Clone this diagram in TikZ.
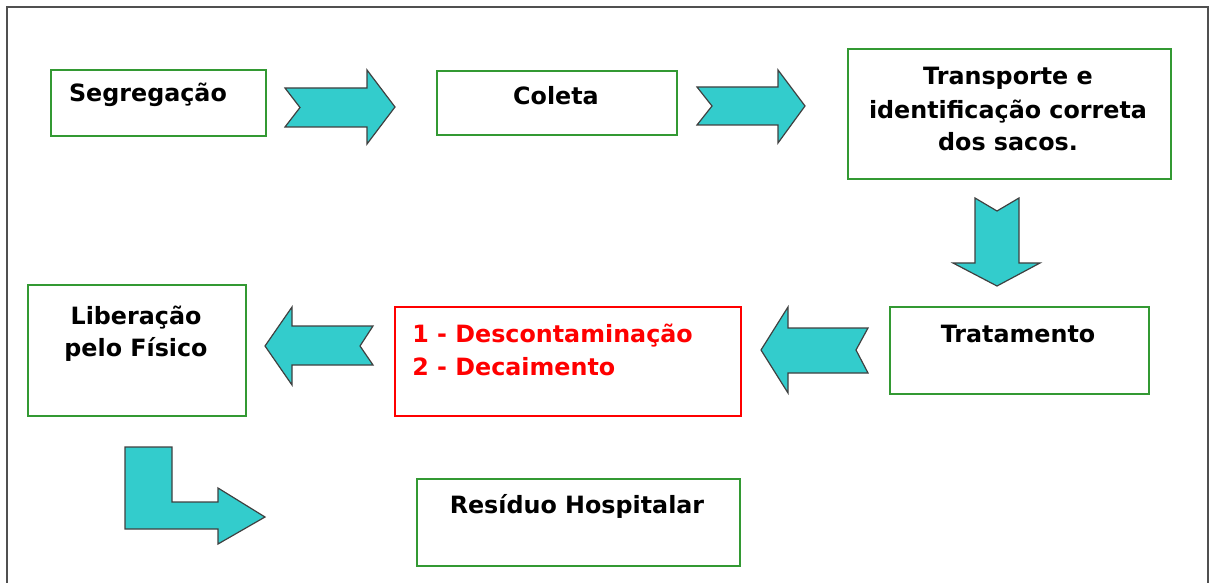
\documentclass[tikz,border=0pt]{standalone}
\usepackage{fontspec}
\setmainfont{DejaVu Sans}
\usepackage{tikz}
\usetikzlibrary{positioning,calc}
\definecolor{boxgreen}{RGB}{51,153,51}
\definecolor{arrowfill}{RGB}{51,204,204}
\definecolor{framegray}{RGB}{80,80,80}
\newcommand{\lbl}{\bfseries\fontsize{11.9}{16.5}\selectfont}
\begin{document}
\begin{tikzpicture}
[x=0.5pt,y=-0.5pt,
greenbox/.style={draw=boxgreen,line width=1pt,inner sep=0pt,anchor=north west},
redbox/.style={draw=red,line width=1pt,inner sep=0pt,anchor=north west},
txt/.style={font=\lbl,inner sep=0pt,align=center,anchor=base},
blockarrow/.style={fill=arrowfill,draw=black!75,line width=0.6pt,line join=miter}]
\useasboundingbox (0,0) rectangle (1212,583);
\draw[framegray,line width=1pt] (7,583) -- (7,7) -- (1208,7) -- (1208,583);

\node (seg) at (50,69) [greenbox,minimum width=107.5pt,minimum height=33pt] {};
\node (col) at (436,70) [greenbox,minimum width=120pt,minimum height=32pt] {};
\node (trans) at (847,48) [greenbox,minimum width=161.5pt,minimum height=65pt] {};
\node (trat) at (889,306) [greenbox,minimum width=129.5pt,minimum height=43.5pt] {};
\node (desc) at (394,306) [redbox,minimum width=173pt,minimum height=54.5pt] {};
\node (lib) at (27,284) [greenbox,minimum width=109pt,minimum height=65.5pt] {};
\node (res) at (416,478) [greenbox,minimum width=161.5pt,minimum height=43.5pt] {};

% multi-line labels sit on the baseline of their last line
\node (segt) at (148,102) [txt] {Segregação};
\node (colt) at (556,105) [txt] {Coleta};
\node (transt) at (1008,151) [txt] {Transporte e\\identificação correta\\dos sacos.};
\node (tratt) at (1018,343) [txt] {Tratamento};
\node (desct) at (412,375) [txt,red,align=left,anchor=base west] {1 - Descontaminação\\2 - Decaimento};
\node (libt) at (136,357) [txt] {Liberação\\pelo Físico};
\node (rest) at (577,513) [txt] {Resíduo Hospitalar};

\draw[blockarrow] (285,88) -- (367,88) -- (367,70) -- (395,107) -- (367,144) -- (367,127) -- (285,127) -- (300,107.5) -- cycle;
\draw[blockarrow] (697,87) -- (778,87) -- (778,70) -- (805,106) -- (778,143) -- (778,125) -- (697,125) -- (712,106) -- cycle;
\draw[blockarrow] (975,198) -- (997,211) -- (1019,198) -- (1019,263) -- (1040,263) -- (997,286) -- (953,263) -- (975,263) -- cycle;
\draw[blockarrow] (761,350) -- (788,307) -- (788,328) -- (868,328) -- (856,350) -- (868,373) -- (788,373) -- (788,393) -- cycle;
\draw[blockarrow] (265,346) -- (292,307) -- (292,326) -- (373,326) -- (360,346) -- (373,365) -- (292,365) -- (292,385) -- cycle;
\draw[blockarrow] (125,447) -- (172,447) -- (172,502) -- (218,502) -- (218,488) -- (265,517) -- (218,544) -- (218,529) -- (125,529) -- cycle;

\end{tikzpicture}
\end{document}
